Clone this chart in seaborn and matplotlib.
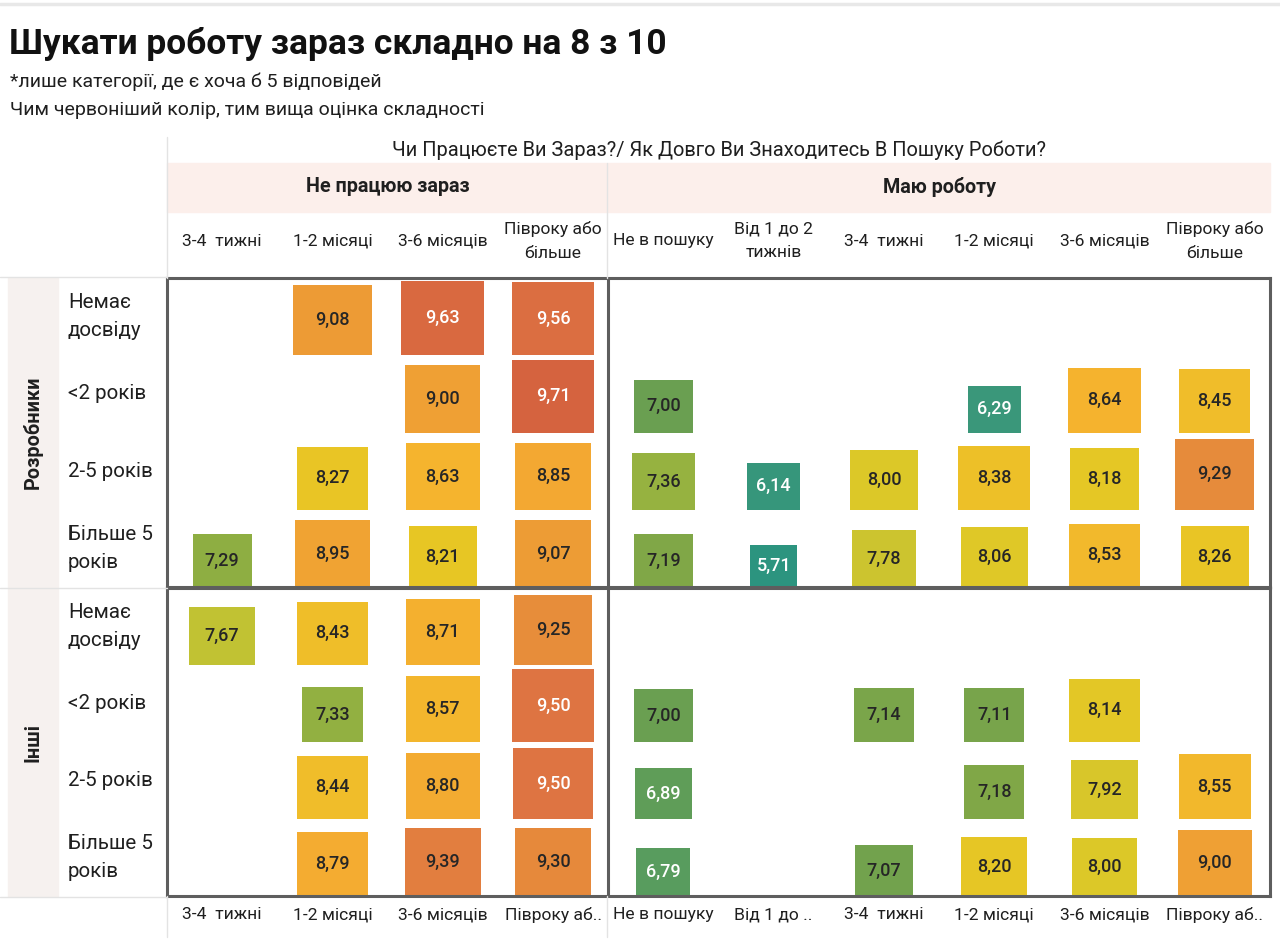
import numpy as np
import pandas as pd
import matplotlib.pyplot as plt
from matplotlib.path import Path
from matplotlib.patches import Rectangle
from matplotlib.lines import Line2D
from matplotlib.colors import LinearSegmentedColormap
from matplotlib import transforms
import seaborn as sns

# --- дані ---------------------------------------------------------------------
statuses = ["Не працюю зараз", "Маю роботу"]
durations_not_working = ["3-4  тижні", "1-2 місяці", "3-6 місяців", "Півроку або\nбільше"]
durations_working = ["Не в пошуку", "Від 1 до 2\nтижнів", "3-4  тижні", "1-2 місяці",
                     "3-6 місяців", "Півроку або\nбільше"]
bottom_labels = ["3-4  тижні", "1-2 місяці", "3-6 місяців", "Півроку аб..",
                 "Не в пошуку", "Від 1 до ..", "3-4  тижні", "1-2 місяці",
                 "3-6 місяців", "Півроку аб.."]
groups = ["Розробники", "Інші"]
experience = ["Немає\nдосвіду", "<2 років", "2-5 років", "Більше 5\nроків"]

N = None
# середня оцінка складності (рядки = досвід, стовпці = статус/тривалість пошуку)
score_dev = [
    [N, 9.08, 9.63, 9.56, N, N, N, N, N, N],
    [N, N, 9.00, 9.71, 7.00, N, N, 6.29, 8.64, 8.45],
    [N, 8.27, 8.63, 8.85, 7.36, 6.14, 8.00, 8.38, 8.18, 9.29],
    [7.29, 8.95, 8.21, 9.07, 7.19, 5.71, 7.78, 8.06, 8.53, 8.26],
]
score_other = [
    [7.67, 8.43, 8.71, 9.25, N, N, N, N, N, N],
    [N, 7.33, 8.57, 9.50, 7.00, N, 7.14, 7.11, 8.14, N],
    [N, 8.44, 8.80, 9.50, 6.89, N, N, 7.18, 7.92, 8.55],
    [N, 8.79, 9.39, 9.30, 6.79, N, 7.07, 8.20, 8.00, 9.00],
]
# кількість відповідей (оцінено за розміром квадратів)
resp_dev = [
    [N, 49, 55, 53, N, N, N, N, N, N],
    [N, N, 45, 53, 28, N, N, 22, 42, 40],
    [N, 40, 44, 45, 32, 22, 36, 41, 38, 50],
    [28, 45, 37, 45, 28, 18, 32, 36, 40, 37],
]
resp_other = [
    [34, 40, 44, 49, N, N, N, N, N, N],
    [N, 30, 44, 53, 28, N, 29, 29, 40, N],
    [N, 40, 44, 50, 26, N, N, 29, 35, 42],
    [N, 41, 46, 46, 23, N, 26, 35, 34, 44],
]

# --- таблиця -------------------------------------------------------------------
col_keys = [statuses[0] + "|" + d for d in durations_not_working] + \
           [statuses[1] + "|" + d for d in durations_working]

records = []
for grp, scores, resp in zip(groups, [score_dev, score_other], [resp_dev, resp_other]):
    for i, exp in enumerate(experience):
        for j, key in enumerate(col_keys):
            if scores[i][j] is None:
                continue
            records.append({"група": grp, "досвід": exp, "колонка": key,
                            "оцінка": scores[i][j], "відповідей": resp[i][j]})
df = pd.DataFrame(records)
df["колонка"] = pd.Categorical(df["колонка"], categories=col_keys)
df["досвід"] = pd.Categorical(df["досвід"], categories=experience)
df["x"] = df["колонка"].cat.codes
df["y"] = df["досвід"].cat.codes

# --- стиль ---------------------------------------------------------------------
sns.set_style("white")
plt.rcParams['font.family'] = ['Roboto', 'DejaVu Sans']

DPI = 100
W, H = 1280, 947
FRAME = "#5e5e5e"
LIGHT = "#e3e3e3"
TXT = "#1f1f1f"

anchors = [(5.6, "#2a9480"), (6.3, "#3a977a"), (6.85, "#5c9d5a"), (7.0, "#6a9f51"),
           (7.2, "#82a846"), (7.4, "#9bb43e"), (7.7, "#c4c332"), (7.85, "#d4c52c"),
           (8.0, "#dcc828"), (8.25, "#e8c624"), (8.45, "#f0bd2a"), (8.65, "#f5b32e"),
           (8.85, "#f3a932"), (9.05, "#ee9e34"), (9.3, "#e68a3b"), (9.5, "#de7442"),
           (9.8, "#d25c3e")]
vmin, vmax = anchors[0][0], anchors[-1][0]
cmap = LinearSegmentedColormap.from_list(
    "skladnist", [((v - vmin) / (vmax - vmin), c) for v, c in anchors])

# квадрат, прив'язаний до нижнього краю (трохи ширший, як на скриншоті)
square = Path([(-0.56, 0), (0.56, 0), (0.56, 1), (-0.56, 1), (-0.56, 0)],
              [Path.MOVETO, Path.LINETO, Path.LINETO, Path.LINETO, Path.CLOSEPOLY])
k = (1440 / DPI) ** 2          # висота квадрата = 10*sqrt(n) px
nmin, nmax = df["відповідей"].min(), df["відповідей"].max()

fig = plt.figure(figsize=(W / DPI, H / DPI), dpi=DPI)


def fx(px):
    return px / W


def fy(py):
    return 1 - py / H


def hline(x0, x1, y, color=LIGHT, lw=1.0):
    fig.add_artist(Line2D([fx(x0), fx(x1)], [fy(y), fy(y)], color=color, lw=lw,
                          transform=fig.transFigure))


def vline(x, y0, y1, color=LIGHT, lw=1.0):
    fig.add_artist(Line2D([fx(x), fx(x)], [fy(y0), fy(y1)], color=color, lw=lw,
                          transform=fig.transFigure))


# фон шапки і бічних смуг
fig.add_artist(Rectangle((fx(167), fy(212)), fx(1270) - fx(167), fy(163) - fy(212),
                         color="#fcefeb", transform=fig.transFigure, zorder=0))
for top, bot in [(278, 587), (588, 896)]:
    fig.add_artist(Rectangle((fx(8), fy(bot)), fx(58) - fx(8), fy(top) - fy(bot),
                             color="#f6f1ef", transform=fig.transFigure, zorder=0))
hline(0, W, 4, color="#e8e8e8", lw=2.5)
vline(167, 137, 278)
vline(607, 163, 278)
vline(167, 896, 937)
vline(607, 896, 937)
hline(0, 167, 277)
hline(0, 167, 588)
hline(0, 167, 897)

# заголовки
fig.text(fx(9), fy(44), "Шукати роботу зараз складно на 8 з 10", fontsize=25.5,
         fontweight="bold", color="#111111", va="center", ha="left")
fig.text(fx(10), fy(82), "*лише категорії, де є хоча б 5 відповідей", fontsize=14,
         color=TXT, va="center", ha="left")
fig.text(fx(10), fy(110), "Чим червоніший колір, тим вища оцінка складності",
         fontsize=14, color=TXT, va="center", ha="left")

axes = []
panels = [(278, 587), (588, 896)]
for grp, (top, bot) in zip(groups, panels):
    ax = fig.add_axes([fx(167), fy(bot), fx(1270) - fx(167), fy(top) - fy(bot)])
    sub = df[df["група"] == grp]
    sns.scatterplot(data=sub, x="x", y="y", hue="оцінка", palette=cmap,
                    hue_norm=(vmin, vmax), size="відповідей",
                    sizes=(k * nmin, k * nmax), size_norm=(nmin, nmax),
                    marker=square, linewidth=0, edgecolor="none",
                    legend=False, ax=ax, zorder=2)
    ax.set_xlim(-0.5, len(col_keys) - 0.5)
    ax.set_ylim(len(experience) - 1, -1)
    ax.set(xlabel="", ylabel="", xticks=[], yticks=[])
    for sp in ax.spines.values():
        sp.set_color(FRAME)
        sp.set_linewidth(2.2)
        sp.set_visible(True)
    ax.axvline(len(durations_not_working) - 0.5, color=FRAME, lw=2.2, zorder=3)

    # підписи значень у центрі квадратів
    for _, r in sub.iterrows():
        v = r["оцінка"]
        col = "white" if (v >= 9.45 or v < 6.95) else "#262626"
        ax.annotate(f"{v:.2f}".replace(".", ","), (r["x"], r["y"]),
                    xytext=(0, 3.6 * np.sqrt(r["відповідей"])), textcoords="offset points",
                    ha="center", va="center", fontsize=13, fontweight="medium",
                    color=col, zorder=4)

    # підписи рядків
    row_tr = transforms.blended_transform_factory(fig.transFigure, ax.transData)
    for i, exp in enumerate(experience):
        fig.text(fx(68), i - 0.5, exp, transform=row_tr, fontsize=14.8, color=TXT,
                 ha="left", va="center", linespacing=1.6)
    fig.text(fx(33), fy((top + bot) / 2), grp, rotation=90, fontsize=14.3,
             fontweight="bold", color=TXT, ha="center", va="center")
    axes.append(ax)

ax_top, ax_bot = axes
col_tr = transforms.blended_transform_factory(ax_top.transData, fig.transFigure)
fig.text(4.5, fy(150), "Чи Працюєте Ви Зараз?/ Як Довго Ви Знаходитесь В Пошуку Роботи?",
         transform=col_tr, fontsize=14.4, color=TXT, ha="center", va="center")
n_left = len(durations_not_working)
n_right = len(durations_working)
fig.text((n_left - 1) / 2, fy(187), statuses[0], transform=col_tr, fontsize=14.2,
         fontweight="bold", color=TXT, ha="center", va="center")
fig.text(n_left + (n_right - 1) / 2, fy(187), statuses[1], transform=col_tr,
         fontsize=14.2, fontweight="bold", color=TXT, ha="center", va="center")
for j, lab in enumerate(durations_not_working + durations_working):
    fig.text(j, fy(241), lab, transform=col_tr, fontsize=12.6, color=TXT,
             ha="center", va="center", linespacing=1.7)

ax_bot.set_xticks(range(len(bottom_labels)))
ax_bot.set_xticklabels(bottom_labels, fontsize=12.6, color=TXT)
ax_bot.tick_params(axis="x", length=0, pad=8)

fig.savefig("out.png", dpi=DPI, facecolor="white")
